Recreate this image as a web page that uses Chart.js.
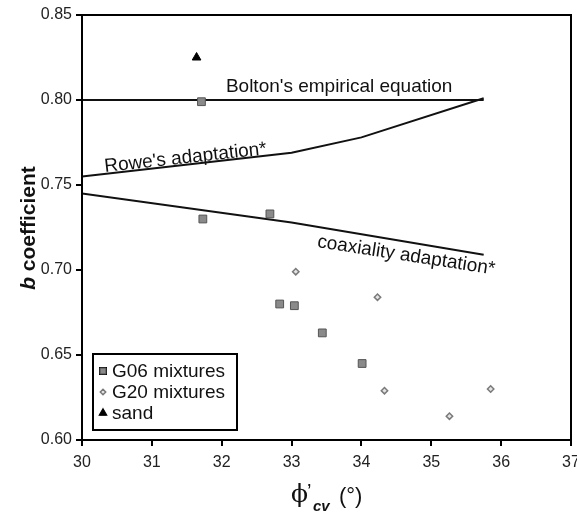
<!DOCTYPE html>
<html lang="en">
<head>
  <meta charset="UTF-8">
  <title>b coefficient vs phi'cv</title>
  <script src="https://cdn.jsdelivr.net/npm/chart.js"></script>
  <style>
    html, body { margin: 0; padding: 0; background: #fff; }
    #wrap { width: 577px; height: 513px; }
  </style>
</head>
<body>
  <div id="wrap"><canvas id="bChart" width="577" height="513"></canvas></div>

  <script>
    // Data
    const g06X = [31.71, 31.73, 32.69, 32.83, 33.04, 33.44, 34.01];
    const g06Y = [0.799, 0.730, 0.733, 0.680, 0.679, 0.663, 0.645];
    const g20X = [33.06, 34.23, 34.33, 35.26, 35.85];
    const g20Y = [0.699, 0.684, 0.629, 0.614, 0.630];
    const sandX = [31.64];
    const sandY = [0.825];

    const boltonX = [30, 35.75];
    const boltonY = [0.80, 0.80];
    const roweX = [30, 33, 34, 35.75];
    const roweY = [0.755, 0.769, 0.778, 0.801];
    const coaxX = [30, 33, 35.75];
    const coaxY = [0.745, 0.728, 0.709];

    const legendLabels = ['G06 mixtures', 'G20 mixtures', 'sand'];
    // curve labels: text, anchor x, anchor y (data units), angle (deg)
    const curveLabels = [
      ["Bolton's empirical equation", 32.06, 0.8047, 0],
      ["Rowe's adaptation*", 30.33, 0.7576, -6.3],
      ["coaxiality adaptation*", 33.36, 0.7135, 8.8]
    ];

    const FONT = '"Liberation Sans", Arial, sans-serif';
    const pts = (xs, ys) => xs.map((x, i) => ({ x: x, y: ys[i] }));

    const markerStyles = [
      { pointStyle: 'rect', radius: 5.5, bg: '#8a8a8a', border: '#555', bw: 1 },
      { pointStyle: 'rectRot', radius: 3.2, bg: '#e4e4e4', border: '#7a7a7a', bw: 1.5 },
      { pointStyle: 'triangle', radius: 5, bg: '#000', border: '#000', bw: 1 }
    ];

    const lineDs = (xs, ys) => ({
      data: pts(xs, ys),
      showLine: true,
      borderColor: '#111',
      borderWidth: 2,
      pointRadius: 0,
      fill: false,
      tension: 0
    });
    const pointDs = (xs, ys, m) => ({
      data: pts(xs, ys),
      showLine: false,
      pointStyle: m.pointStyle,
      pointRadius: m.radius,
      pointBackgroundColor: m.bg,
      pointBorderColor: m.border,
      pointBorderWidth: m.bw
    });

    // box round the plot, curve labels, axis titles, legend
    const decor = {
      id: 'decor',
      afterDraw(chart) {
        const c = chart.ctx, a = chart.chartArea;
        const xs = chart.scales.x, ys = chart.scales.y;
        c.save();
        c.strokeStyle = '#000';
        c.lineWidth = 2;
        c.strokeRect(a.left, a.top, a.right - a.left, a.bottom - a.top);

        c.fillStyle = '#111';
        c.font = '19px ' + FONT;
        c.textBaseline = 'alphabetic';
        c.textAlign = 'left';
        curveLabels.forEach(l => {
          c.save();
          c.translate(xs.getPixelForValue(l[1]), ys.getPixelForValue(l[2]));
          c.rotate(l[3] * Math.PI / 180);
          c.fillText(l[0], 0, 0);
          c.restore();
        });

        // y title: italic b + coefficient, bold
        c.save();
        c.translate(35, 228);
        c.rotate(-Math.PI / 2);
        const f1 = 'italic bold 21px ' + FONT, f2 = 'bold 21px ' + FONT;
        c.font = f1; const w1 = c.measureText('b').width;
        c.font = f2; const w2 = c.measureText(' coefficient').width;
        let x0 = -(w1 + w2) / 2;
        c.font = f1; c.fillText('b', x0, 0);
        c.font = f2; c.fillText(' coefficient', x0 + w1, 0);
        c.restore();

        // x title: phi'cv (°)
        c.font = '25px "DejaVu Serif", serif';
        c.fillText('\u03D5', 291, 502);
        c.font = '20px ' + FONT;
        c.fillText('\u2019', 307, 498);
        c.font = 'italic bold 15px ' + FONT;
        c.fillText('cv', 313, 511);
        c.font = '22px ' + FONT;
        c.fillText('(\u00B0)', 339, 503);

        // legend
        const lx = a.left + 11, ly = a.bottom - 86;
        c.lineWidth = 2;
        c.strokeStyle = '#000';
        c.fillStyle = '#fff';
        c.fillRect(lx, ly, 144, 76);
        c.strokeRect(lx, ly, 144, 76);
        legendLabels.forEach((t, i) => {
          const m = markerStyles[i];
          const cy = ly + 17 + i * 21;
          Chart.helpers.drawPoint(c, {
            pointStyle: m.pointStyle,
            radius: m.pointStyle === 'rect' ? 4.2 : m.radius * 0.85,
            rotation: 0,
            borderWidth: m.bw
          }, lx + 10, cy);
          c.fillStyle = m.bg; c.strokeStyle = m.border; c.lineWidth = m.bw;
          c.fill(); c.stroke();
          c.fillStyle = '#111';
          c.font = '19px ' + FONT;
          c.textBaseline = 'middle';
          c.fillText(t, lx + 19, cy + 1);
        });
        c.restore();
      }
    };

    const ctx = document.getElementById('bChart').getContext('2d');
    const chart = new Chart(ctx, {
      type: 'scatter',
      data: {
        datasets: [
          pointDs(sandX, sandY, markerStyles[2]),
          pointDs(g06X, g06Y, markerStyles[0]),
          pointDs(g20X, g20Y, markerStyles[1]),
          lineDs(boltonX, boltonY),
          lineDs(roweX, roweY),
          lineDs(coaxX, coaxY)
        ]
      },
      options: {
        responsive: false,
        animation: false,
        layout: { padding: { top: 15, right: 6, left: 0, bottom: 0 }, autoPadding: false },
        plugins: { legend: { display: false }, tooltip: { enabled: false } },
        scales: {
          x: {
            type: 'linear',
            min: 30, max: 37,
            ticks: { stepSize: 1, color: '#222', font: { size: 16, family: FONT }, padding: 7, maxRotation: 0 },
            grid: { drawOnChartArea: false, drawTicks: true, tickLength: 6, color: '#000', lineWidth: 2 },
            border: { color: '#000', width: 2 },
            afterFit(s) { s.height = 73; s.paddingLeft = 0; s.paddingRight = 0; }
          },
          y: {
            type: 'linear',
            min: 0.60, max: 0.85,
            ticks: { stepSize: 0.05, color: '#222', font: { size: 16, family: FONT }, padding: 4,
              callback: v => v.toFixed(2) },
            grid: { drawOnChartArea: false, drawTicks: true, tickLength: 6, color: '#000', lineWidth: 2 },
            border: { color: '#000', width: 2 },
            afterFit(s) { s.width = 82; s.paddingTop = 0; s.paddingBottom = 0; }
          }
        }
      },
      plugins: [decor]
    });
  </script>
</body>
</html>
